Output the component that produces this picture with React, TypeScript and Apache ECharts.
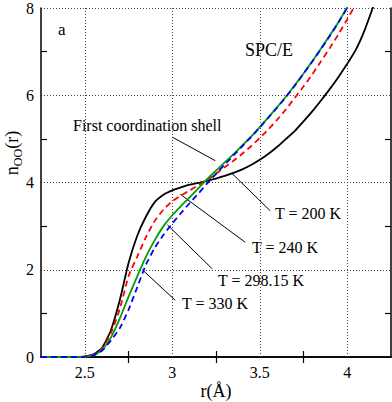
import React, { useEffect, useRef } from "react";
import * as echarts from "echarts";

// r grid (Å)
const r = [2.25, 2.4, 2.45, 2.5, 2.55, 2.6, 2.65, 2.7, 2.75, 2.8, 2.85, 2.9, 2.95, 3.0, 3.05, 3.1, 3.15, 3.2, 3.25, 3.3, 3.35, 3.4, 3.45, 3.5, 3.55, 3.6, 3.65, 3.7, 3.75, 3.8, 3.85, 3.9, 3.95, 4.0, 4.05, 4.1, 4.15, 4.2];

// n_OO(r) per temperature
const n200 = [0, 0, 0, 0.01, 0.06, 0.22, 0.62, 1.3, 2.15, 2.78, 3.22, 3.55, 3.72, 3.82, 3.89, 3.95, 3.99, 4.04, 4.09, 4.15, 4.22, 4.30, 4.40, 4.52, 4.66, 4.82, 5.0, 5.18, 5.4, 5.63, 5.88, 6.14, 6.42, 6.72, 7.05, 7.5, 8.05, 8.6];
const n240 = [0, 0, 0, 0.01, 0.05, 0.2, 0.55, 1.1, 1.85, 2.3, 2.75, 3.12, 3.38, 3.57, 3.70, 3.82, 3.94, 4.06, 4.2, 4.35, 4.5, 4.66, 4.83, 5.02, 5.22, 5.44, 5.68, 5.94, 6.2, 6.48, 6.78, 7.08, 7.4, 7.74, 8.1, 8.5, 8.9, 9.3];
const n298 = [0, 0, 0, 0.01, 0.04, 0.17, 0.45, 0.88, 1.38, 1.85, 2.3, 2.68, 3.0, 3.25, 3.46, 3.66, 3.87, 4.08, 4.27, 4.46, 4.65, 4.85, 5.05, 5.27, 5.5, 5.73, 5.97, 6.23, 6.5, 6.78, 7.07, 7.37, 7.68, 8.02, 8.4, 8.8, 9.2, 9.6];
const n330 = [0, 0, 0, 0.01, 0.04, 0.15, 0.38, 0.66, 1.08, 1.6, 2.12, 2.5, 2.8, 3.06, 3.3, 3.53, 3.75, 3.98, 4.2, 4.41, 4.62, 4.83, 5.04, 5.26, 5.49, 5.72, 5.96, 6.22, 6.49, 6.77, 7.06, 7.36, 7.67, 8.01, 8.4, 8.8, 9.2, 9.6];

const seriesNames = ["T = 200 K", "T = 240 K", "T = 298.15 K", "T = 330 K"];
const xLabels = [2.5, 3, 3.5, 4];
const xMinorTicks = [2.75, 3.25, 3.75];

// pointer lines (data coords)
const shellPtr = [[3.0, 5.04], [3.246, 4.5]];
const ptr200 = [[3.341, 4.21], [3.56, 3.35]];
const ptr240 = [[3.046, 3.73], [3.417, 2.63]];
const ptr298 = [[2.972, 3.03], [3.229, 2.02]];
const ptr330 = [[2.829, 2.0], [3.017, 1.3]];

const FONT = "Liberation Serif";

const zip = (ys: number[]) => r.map((x, i) => [x, ys[i]]);

export default function App() {
  const ref = useRef<HTMLDivElement>(null);
  useEffect(() => {
    if (!ref.current) return;
    const chart = echarts.init(ref.current, undefined, { renderer: "svg" });
    const ptrSeries = (data: number[][], extra: any = {}) => ({
      type: "line",
      data,
      showSymbol: false,
      silent: true,
      lineStyle: { color: "#000", width: 1 },
      z: 1,
      ...extra,
    });
    const curve = (name: string, ys: number[], color: string, dashed: boolean) => ({
      name,
      type: "line",
      data: zip(ys),
      showSymbol: false,
      smooth: 0.2,
      clip: true,
      silent: true,
      lineStyle: { color, width: 1.8, type: dashed ? [6, 4] : "solid" },
      z: 3,
    });
    const textEl = (text: string, x: number, y: number, size = 16) => ({
      type: "text",
      x,
      y,
      silent: true,
      style: {
        text,
        fontSize: size,
        fontFamily: FONT,
        fill: "#000",
        align: "left",
        verticalAlign: "middle",
      },
    });
    chart.setOption({
      animation: false,
      backgroundColor: "#fff",
      textStyle: { fontFamily: FONT },
      grid: { left: 41, right: 1, top: 7, bottom: 45, containLabel: false },
      xAxis: [
        {
          type: "value",
          min: 2.25,
          max: 4.25,
          position: "bottom",
          axisLine: { show: true, lineStyle: { color: "#000", width: 1.5 } },
          axisTick: { show: true, inside: true, length: 6, customValues: xMinorTicks, lineStyle: { color: "#000", width: 1.2 } },
          axisLabel: { customValues: xLabels, color: "#000", fontSize: 16, fontFamily: FONT, margin: 7 },
          splitLine: { show: false },
        },
        {
          type: "value",
          min: 2.25,
          max: 4.25,
          position: "top",
          axisLine: { show: true, lineStyle: { color: "#000", width: 1.5 } },
          axisTick: { show: true, inside: true, length: 6, customValues: xMinorTicks, lineStyle: { color: "#000", width: 1.2 } },
          axisLabel: { show: false },
          splitLine: { show: false },
        },
      ],
      yAxis: [
        {
          type: "value",
          min: 0,
          max: 8,
          interval: 2,
          position: "left",
          axisLine: { show: true, lineStyle: { color: "#000", width: 1.5 } },
          axisTick: { show: false, inside: true },
          minorTick: { show: true, splitNumber: 2, length: 6, lineStyle: { color: "#000", width: 1.2 } },
          axisLabel: { color: "#000", fontSize: 16, fontFamily: FONT, margin: 7 },
          splitLine: { show: true, lineStyle: { color: "#444", width: 1, type: [1, 2] } },
        },
        {
          type: "value",
          min: 0,
          max: 8,
          interval: 2,
          position: "right",
          axisLine: { show: true, lineStyle: { color: "#000", width: 1.5 } },
          axisTick: { show: false, inside: true },
          minorTick: { show: true, splitNumber: 2, length: 6, lineStyle: { color: "#000", width: 1.2 } },
          axisLabel: { show: false },
          splitLine: { show: false },
        },
      ],
      series: [
        ptrSeries(shellPtr, {
          markLine: {
            silent: true,
            symbol: "none",
            label: { show: false },
            lineStyle: { color: "#444", width: 1, type: [1, 2] },
            data: xLabels.map((v) => ({ xAxis: v })),
          },
        }),
        ptrSeries(ptr200),
        ptrSeries(ptr240),
        ptrSeries(ptr298),
        ptrSeries(ptr330),
        curve(seriesNames[0], n200, "#000000", false),
        curve(seriesNames[1], n240, "#ff0000", true),
        curve(seriesNames[2], n298, "#00a000", false),
        curve(seriesNames[3], n330, "#0000ff", true),
      ],
      graphic: [
        textEl("a", 58, 29, 17),
        textEl("SPC/E", 245, 50, 18),
        textEl("First coordination shell", 73, 125),
        textEl(seriesNames[0], 275, 213),
        textEl(seriesNames[1], 252, 247),
        textEl(seriesNames[2], 218, 280),
        textEl(seriesNames[3], 182, 303),
        {
          type: "text",
          x: 216,
          y: 391,
          silent: true,
          style: { text: "r(Å)", fontSize: 18, fontFamily: FONT, fill: "#000", align: "center", verticalAlign: "middle" },
        },
        {
          type: "text",
          x: 12,
          y: 153,
          rotation: Math.PI / 2,
          silent: true,
          style: {
            text: "{m|n}{s|OO}{m|(r)}",
            fontFamily: FONT,
            fill: "#000",
            align: "center",
            verticalAlign: "middle",
            rich: {
              m: { fontSize: 18, lineHeight: 18, fontFamily: FONT, verticalAlign: "top" },
              s: { fontSize: 12, lineHeight: 12, fontFamily: FONT, verticalAlign: "top", padding: [9, 0, 0, 0] },
            },
          },
        },
      ],
    });
    return () => chart.dispose();
  }, []);
  return <div ref={ref} style={{ position: "absolute", left: 0, top: 0, width: 392, height: 402 }} />;
}
